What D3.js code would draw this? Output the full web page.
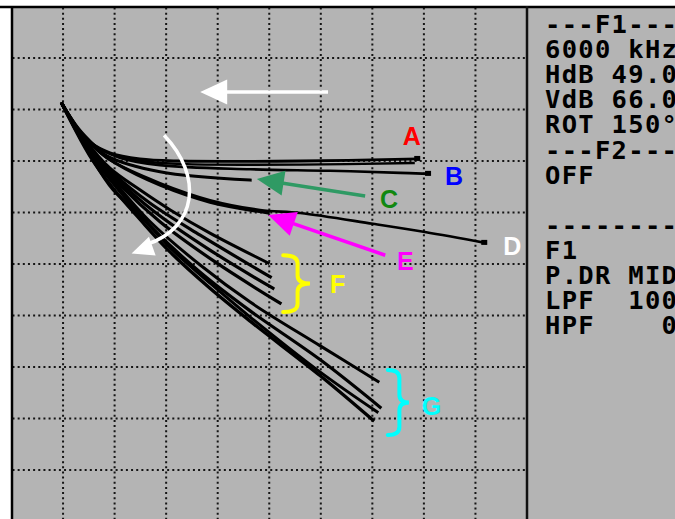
<!DOCTYPE html>
<html><head><meta charset="utf-8">
<script src="https://cdn.jsdelivr.net/npm/d3@7"></script>
<style>
html,body{margin:0;padding:0;background:#fff;overflow:hidden}
svg{display:block}
</style></head><body>
<script>
// ---- DATA (screen divisions: x 0..10 left→right, y 0..10 top→bottom) ----
const gridX = [1,2,3,4,5,6,7,8,9];
const gridY = [1,2,3,4,5,6,7,8,9,10];

const traceA_x = [0.98,1.19,1.52,1.91,2.49,3.27,5.60,7.89];
const traceA_y = [1.89,2.24,2.63,2.84,2.96,3.00,3.00,2.96];
const traceA2_x = [0.98,1.21,1.56,1.98,2.60,3.40,5.60,7.80];
const traceA2_y = [1.89,2.27,2.66,2.88,3.01,3.06,3.07,3.04];
const traceB_x = [0.98,1.23,1.62,2.11,2.88,4.63,6.18,7.54,8.10];
const traceB_y = [1.89,2.30,2.71,2.94,3.08,3.16,3.19,3.23,3.25];
const traceC_x = [0.98,1.29,1.62,1.85,2.88,4.63];
const traceC_y = [1.89,2.36,2.71,2.90,3.21,3.37];
const traceD_x = [0.98,1.33,1.62,1.91,2.88,3.85,4.82,5.60,7.01,8.02,9.19];
const traceD_y = [1.89,2.44,2.75,2.98,3.43,3.76,3.95,4.01,4.22,4.38,4.59];
const traceE_x = [0.98,1.37,1.72,2.01,2.88,3.85,4.98];
const traceE_y = [1.89,2.48,2.83,3.04,3.47,3.80,4.01];
const traceF1_x = [0.98,1.43,1.91,2.49,3.08,3.85,4.98];
const traceF1_y = [1.89,2.59,3.14,3.56,3.95,4.40,4.98];
const traceF2_x = [0.98,1.48,2.01,2.69,3.66,5.02];
const traceF2_y = [1.89,2.69,3.27,3.82,4.44,5.25];
const traceF3_x = [0.98,1.52,2.07,2.78,3.85,5.07];
const traceF3_y = [1.89,2.75,3.37,3.99,4.73,5.47];
const traceF4_x = [0.98,1.56,2.11,2.88,3.95,5.21];
const traceF4_y = [1.89,2.83,3.47,4.18,4.96,5.76];
const traceG1_x = [0.98,1.43,1.97,2.69,3.66,4.63,5.99,7.11];
const traceG1_y = [1.89,2.69,3.37,4.18,5.02,5.74,6.59,7.28];
const traceG2_x = [0.98,1.48,1.97,2.69,3.66,4.63,5.99,7.15];
const traceG2_y = [1.89,2.79,3.43,4.26,5.16,5.91,6.86,7.78];
const traceG3_x = [0.98,1.52,1.97,2.49,3.08,3.85,4.63,5.99,7.09];
const traceG3_y = [1.89,2.88,3.56,4.05,4.69,5.37,6.03,7.10,7.87];
const traceG4_x = [0.98,1.52,1.97,2.49,3.08,3.85,4.63,5.99,7.01];
const traceG4_y = [1.89,2.90,3.53,4.13,4.77,5.47,6.11,7.17,8.03];

const labelText = ["A","B","C","D","E","F","G"];
const labelX = [7.59,8.41,7.15,9.54,7.48,6.18,7.96];
const labelY = [2.69,3.47,3.91,4.83,5.12,5.56,7.93];
const labelColor = ["#ff0000","#0000ff","#118811","#ffffff","#ff00ff","#ffff00","#00ffff"];

const readout = ["---F1----","6000 kHz","HdB 49.0","VdB 66.0","ROT 150°","---F2----","OFF","","---------","F1","P.DR MID","LPF  100","HPF    0"];

// ---- SETUP ----
const W = 675, H = 519;
const svg = d3.select("body").append("svg").attr("width", W).attr("height", H);
const x = d3.scaleLinear().domain([0,10]).range([11.5, 527]);
const y = d3.scaleLinear().domain([0,10]).range([6.5, 521.5]);

svg.append("rect").attr("x",0).attr("y",0).attr("width",W).attr("height",H).attr("fill","#ffffff");
svg.append("rect").attr("x",11).attr("y",6).attr("width",W-11).attr("height",H-6).attr("fill","#b4b4b4");

// grid (dotted)
const grid = svg.append("g").attr("stroke","#151515").attr("stroke-width",2).attr("stroke-dasharray","2 3.155");
grid.selectAll("line.v").data(gridX).join("line").attr("class","v")
  .attr("x1", d=>x(d)).attr("x2", d=>x(d)).attr("y1", y(0)+1).attr("y2", H);
grid.selectAll("line.h").data(gridY.filter(d=>y(d)<H)).join("line").attr("class","h")
  .attr("y1", d=>y(d)).attr("y2", d=>y(d)).attr("x1", x(0)+1).attr("x2", x(10));

// frame
svg.append("line").attr("x1",0).attr("x2",W).attr("y1",7).attr("y2",7).attr("stroke","#000").attr("stroke-width",2.5);
svg.append("line").attr("x1",12).attr("x2",12).attr("y1",6).attr("y2",H).attr("stroke","#000").attr("stroke-width",2.5);
svg.append("line").attr("x1",x(10)).attr("x2",x(10)).attr("y1",6).attr("y2",H).attr("stroke","#111").attr("stroke-width",2.5);

// traces
const traceSets = [
  [traceA_x,traceA_y,2.8],[traceA2_x,traceA2_y,2.4],[traceB_x,traceB_y,2.6],[traceC_x,traceC_y,3],
  [traceD_x,traceD_y,2.6],[traceE_x,traceE_y,3],
  [traceF1_x,traceF1_y,3],[traceF2_x,traceF2_y,3.2],[traceF3_x,traceF3_y,3.2],[traceF4_x,traceF4_y,3.2],
  [traceG1_x,traceG1_y,3],[traceG2_x,traceG2_y,3.2],[traceG3_x,traceG3_y,3],[traceG4_x,traceG4_y,3.4]
];
const traces = traceSets.map(([xs,ys,w]) => ({w, pts: xs.map((v,i)=>[v, ys[i]])}));
const line = d3.line().x(d=>x(d[0])).y(d=>y(d[1])).curve(d3.curveCatmullRom.alpha(0.5));
svg.append("g").selectAll("path").data(traces).join("path")
  .attr("d", d=>line(d.pts)).attr("fill","none").attr("stroke","#000").attr("stroke-width",d=>d.w)
  .attr("stroke-linejoin","round").attr("stroke-linecap","square");
// small end blobs on A, B, D
const ends = [traces[0], traces[2], traces[4]].map(t => t.pts[t.pts.length-1]);
svg.append("g").selectAll("rect").data(ends).join("rect")
  .attr("x", d=>x(d[0])-4).attr("y", d=>y(d[1])-3).attr("width",6).attr("height",5).attr("fill","#000");

// ---- annotations ----
const ann = svg.append("g");
function arrowHead(g, tip, dir, len, wid, color){
  const n = Math.hypot(dir[0],dir[1]); const ux = dir[0]/n, uy = dir[1]/n;
  const bx = tip[0]-ux*len, by = tip[1]-uy*len;
  const px = -uy*wid/2, py = ux*wid/2;
  g.append("polygon").attr("points", [[tip[0],tip[1]],[bx+px,by+py],[bx-px,by-py]].map(p=>p.join(",")).join(" "))
    .attr("fill", color);
  return [bx+ux*2, by+uy*2];
}
function straightArrow(from, tip, color, len, wid, sw){
  const f = [x(from[0]), y(from[1])], t = [x(tip[0]), y(tip[1])];
  const base = arrowHead(ann, t, [t[0]-f[0], t[1]-f[1]], len, wid, color);
  ann.append("line").attr("x1",f[0]).attr("y1",f[1]).attr("x2",base[0]).attr("y2",base[1])
    .attr("stroke",color).attr("stroke-width",sw);
}
straightArrow([6.14,1.66],[3.66,1.66],"#ffffff",27,25,3.5);
straightArrow([6.86,3.68],[4.76,3.35],"#2f9a64",27,25,3.5);
straightArrow([7.25,4.83],[4.98,4.05],"#ff00ff",27,25,3.5);
{
  const p0=[x(2.96),y(2.50)], c1=[x(3.72),y(3.30)], c2=[x(3.60),y(4.30)], p1=[x(2.62),y(4.62)];
  ann.append("path").attr("d",`M${p0}C${c1} ${c2} ${p1}`).attr("fill","none").attr("stroke","#fff").attr("stroke-width",3.5);
  arrowHead(ann, [p1[0]-15, p1[1]+9], [p1[0]-c2[0]-10, p1[1]-c2[1]+5], 22, 20, "#ffffff");
}
function brace(xl, xt, y0, y1, color){
  const X0=x(xl), XT=x(xt), Y0=y(y0), Y1=y(y1), ym=(Y0+Y1)/2, xm=(X0+XT)/2+1;
  const r=8;
  const d = `M${X0},${Y0} Q${xm},${Y0} ${xm},${Y0+r} L${xm},${ym-r} Q${xm},${ym} ${XT},${ym} Q${xm},${ym} ${xm},${ym+r} L${xm},${Y1-r} Q${xm},${Y1} ${X0},${Y1}`;
  ann.append("path").attr("d",d).attr("fill","none").attr("stroke",color).attr("stroke-width",4).attr("stroke-linecap","round");
}
brace(5.27,5.79,4.83,5.93,"#ffff00");
brace(7.30,7.71,7.06,8.32,"#00ffff");

ann.selectAll("text.lab").data(labelText).join("text").attr("class","lab")
  .attr("x",(d,i)=>x(labelX[i])).attr("y",(d,i)=>y(labelY[i]))
  .attr("fill",(d,i)=>labelColor[i]).attr("font-family","Liberation Sans, Arial, sans-serif")
  .attr("font-weight","bold").attr("font-size",25).text(d=>d);

// readout panel
svg.append("g").selectAll("text").data(readout).join("text")
  .attr("x",545).attr("y",(d,i)=>33+i*25.1)
  .attr("font-family","DejaVu Sans Mono, monospace").attr("font-weight","bold")
  .attr("font-size",25.5).attr("letter-spacing",1.3).attr("fill","#000")
  .attr("xml:space","preserve").style("white-space","pre").text(d=>d);
</script>
</body></html>
